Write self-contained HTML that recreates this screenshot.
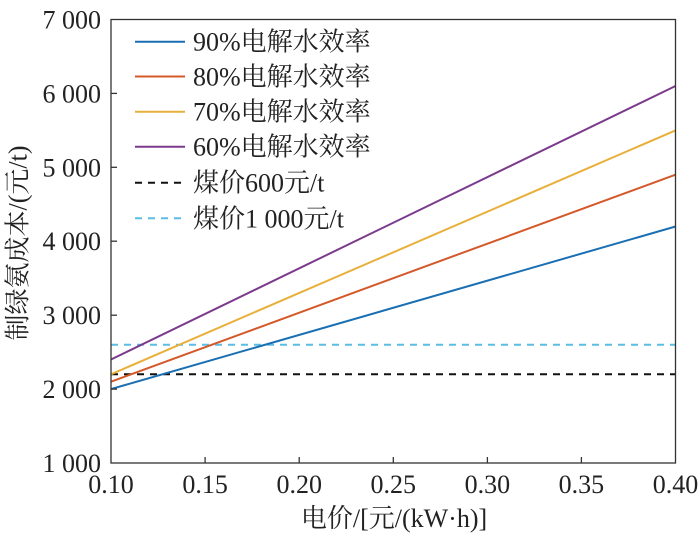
<!DOCTYPE html>
<html>
<head>
<meta charset="utf-8">
<style>
  html, body { margin: 0; padding: 0; background: #fff; }
  svg { display: block; }
  svg text { font-family: "Liberation Serif", "Noto Serif CJK SC", "Noto Sans CJK SC", serif; fill: #222; }
</style>
</head>
<body>
<svg width="700" height="536" viewBox="0 0 700 536" xmlns="http://www.w3.org/2000/svg" style="font-family: 'Liberation Serif', 'Noto Serif CJK SC', 'Noto Sans CJK SC', serif;" font-family="Liberation Serif, Noto Serif CJK SC, serif">
  <rect x="0" y="0" width="700" height="536" fill="#fff"/>

  <!-- series -->
  <g fill="none" stroke-width="2">
    <line x1="111" y1="344.7" x2="675.5" y2="344.7" stroke="#5BBDE4" stroke-dasharray="7,6"/>
    <line x1="111" y1="374.3" x2="675.5" y2="374.3" stroke="#111" stroke-dasharray="7,6"/>
    <line x1="111" y1="389.1" x2="675.5" y2="226.5" stroke="#1A6FB3"/>
    <line x1="111" y1="381.7" x2="675.5" y2="174.7" stroke="#D4582A"/>
    <line x1="111" y1="374.3" x2="675.5" y2="130.4" stroke="#E8B03A"/>
    <line x1="111" y1="359.5" x2="675.5" y2="86.0" stroke="#7B3A8C"/>
  </g>

  <!-- axes box -->
  <rect x="111" y="19.5" width="564.5" height="443.5" fill="none" stroke="#333" stroke-width="1.3"/>

  <!-- ticks -->
  <g stroke="#333" stroke-width="1.3">
    <line x1="205.1" y1="463" x2="205.1" y2="457"/>
    <line x1="299.2" y1="463" x2="299.2" y2="457"/>
    <line x1="393.3" y1="463" x2="393.3" y2="457"/>
    <line x1="487.4" y1="463" x2="487.4" y2="457"/>
    <line x1="581.4" y1="463" x2="581.4" y2="457"/>
    <line x1="111" y1="389.1" x2="117" y2="389.1"/>
    <line x1="111" y1="315.2" x2="117" y2="315.2"/>
    <line x1="111" y1="241.2" x2="117" y2="241.2"/>
    <line x1="111" y1="167.3" x2="117" y2="167.3"/>
    <line x1="111" y1="93.4" x2="117" y2="93.4"/>
  </g>

  <!-- x tick labels -->
  <g font-size="26" text-anchor="middle" style="font-family: 'Liberation Serif', serif;">
    <text x="111" y="493">0.10</text>
    <text x="205.1" y="493">0.15</text>
    <text x="299.2" y="493">0.20</text>
    <text x="393.3" y="493">0.25</text>
    <text x="487.4" y="493">0.30</text>
    <text x="581.4" y="493">0.35</text>
    <text x="675.5" y="493">0.40</text>
  </g>

  <!-- y tick labels -->
  <g font-size="26" text-anchor="end" style="font-family: 'Liberation Serif', serif;">
    <text x="101" y="472">1 000</text>
    <text x="101" y="398.1">2 000</text>
    <text x="101" y="324.2">3 000</text>
    <text x="101" y="250.2">4 000</text>
    <text x="101" y="176.3">5 000</text>
    <text x="101" y="102.4">6 000</text>
    <text x="101" y="28.5">7 000</text>
  </g>

  <!-- axis labels -->
  <text x="394" y="527" font-size="26" text-anchor="middle" style="font-family: 'Liberation Serif', 'Noto Serif CJK SC', serif;">电价/[元/(kW·h)]</text>
  <text x="0" y="0" font-size="26" text-anchor="middle" dominant-baseline="central" transform="translate(18,243) rotate(-90)" style="font-family: 'Liberation Serif', 'Noto Serif CJK SC', serif;">制绿氨成本/(元/t)</text>

  <!-- legend -->
  <g stroke-width="2" fill="none">
    <line x1="135" y1="41.7" x2="185" y2="41.7" stroke="#1A6FB3"/>
    <line x1="135" y1="76.5" x2="185" y2="76.5" stroke="#D4582A"/>
    <line x1="135" y1="111.7" x2="185" y2="111.7" stroke="#E8B03A"/>
    <line x1="135" y1="146.7" x2="185" y2="146.7" stroke="#7B3A8C"/>
    <line x1="135" y1="182.7" x2="185" y2="182.7" stroke="#111" stroke-dasharray="7,6"/>
    <line x1="135" y1="218.3" x2="185" y2="218.3" stroke="#5BBDE4" stroke-dasharray="7,6"/>
  </g>
  <g font-size="26" style="font-family: 'Liberation Serif', 'Noto Serif CJK SC', serif;">
    <text x="193" y="50.7">90%电解水效率</text>
    <text x="193" y="85.5">80%电解水效率</text>
    <text x="193" y="120.7">70%电解水效率</text>
    <text x="193" y="155.7">60%电解水效率</text>
    <text x="193" y="191.7">煤价600元/t</text>
    <text x="193" y="227.3">煤价1 000元/t</text>
  </g>
</svg>
</body>
</html>
